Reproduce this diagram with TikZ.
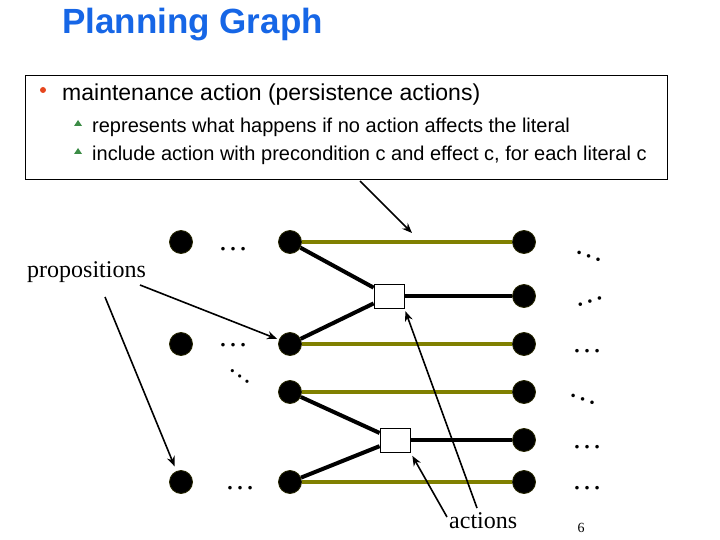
\documentclass[tikz,border=0pt]{standalone}
\usepackage{fontspec}
\setmainfont{Liberation Serif}
\newfontfamily\slidefont{Liberation Sans}
\usetikzlibrary{arrows.meta,positioning,calc}
\definecolor{titleblue}{RGB}{22,102,230}
\definecolor{persist}{RGB}{128,128,0}
\definecolor{bulletred}{RGB}{230,70,30}
\definecolor{subgreen}{RGB}{60,140,70}

\tikzset{
  prop/.style={circle,fill=black,draw=black!70!persist,line width=0.8pt,inner sep=0pt,minimum size=23pt},
  act/.style={draw=black,fill=white,inner sep=0pt,minimum width=30pt,minimum height=24pt,line width=0.8pt},
  noop/.style={persist,line width=4pt},
  link/.style={black,line width=4pt},
  pointer/.style={-{Stealth[length=10pt,width=8pt]},line width=1.6pt},
  etc/.style={inner sep=0pt,font=\fontsize{30}{30}\selectfont},
  slide/.style={anchor=base west,inner sep=0pt,font=\slidefont\fontsize{#1}{#1}\selectfont},
}

\begin{document}
\begin{tikzpicture}[x=1pt,y=-1pt]
  \useasboundingbox (0,0) rectangle (720,540);
  % heading and the text box
  \node[anchor=base west,inner sep=0pt,text=titleblue,font=\slidefont\bfseries\fontsize{35}{40}\selectfont] (title) at (62,34) {Planning Graph};
  \node[draw,line width=0.8pt,minimum width=642pt,minimum height=104pt,inner sep=0pt] (info) at (346,127) {};
  \fill[bulletred] (43,90) circle (3pt);
  \fill[subgreen] (74,126) -- (82,126) -- (78,120) -- cycle;
  \fill[subgreen] (74,154) -- (82,154) -- (78,148) -- cycle;
  \node[slide=23] (main) at (62,101) {maintenance action (persistence actions)};
  \node[slide=20] (subA) at (92,133) {represents what happens if no action affects the literal};
  \node[slide=20] (subB) at (92,161) {include action with precondition c and effect c, for each literal c};

  % proposition levels
  \node[prop] (s0a) at (181,242) {};
  \node[prop] (s0b) at (181,344) {};
  \node[prop] (s0c) at (181,482) {};
  \node[prop] (s1a) at (290,242) {};
  \node[prop] (s1b) at (290,344) {};
  \node[prop] (s1c) at (290,392) {};
  \node[prop] (s1d) at (290,482) {};
  \node[prop] (s2a) at (524,242) {};
  \node[prop] (s2b) at (524,296) {};
  \node[prop] (s2c) at (524,344) {};
  \node[prop] (s2d) at (524,392) {};
  \node[prop] (s2e) at (524,440) {};
  \node[prop] (s2f) at (524,482) {};

  % actions
  \node[act] (a1) at (389,296) {};
  \node[act] (a2) at (395,440) {};

  % maintenance actions
  \draw[noop] (s1a) -- (s2a);
  \draw[noop] (s1b) -- (s2c);
  \draw[noop] (s1c) -- (s2d);
  \draw[noop] (s1d) -- (s2f);
  \draw[link] (s1a) -- (a1); \draw[link] (s1b) -- (a1); \draw[link] (a1) -- (s2b);
  \draw[link] (s1c) -- (a2); \draw[link] (s1d) -- (a2); \draw[link] (a2) -- (s2e);

  % dots
  \node[etc] (d0a) at (233,249) {\ldots};
  \node[etc] (d0b) at (233,345) {\ldots};
  \node[etc,rotate=-36,font=\fontsize{27}{27}\selectfont] (d0x) at (240,376) {\ldots};
  \node[etc] (d0c) at (240,488) {\ldots};
  \node[etc,rotate=-20] (d2a) at (589,256) {\ldots};
  \node[etc,rotate=18] (d2b) at (590,302) {\ldots};
  \node[etc] (d2c) at (587,351) {\ldots};
  \node[etc,rotate=-20] (d2d) at (583,399) {\ldots};
  \node[etc] (d2e) at (587,447) {\ldots};
  \node[etc] (d2f) at (587,488) {\ldots};

  % labels and pointers
  \node[anchor=base west,inner sep=0pt,font=\fontsize{24}{24}\selectfont] (props) at (27,277) {propositions};
  \node[anchor=base west,inner sep=0pt,font=\fontsize{24}{24}\selectfont] (acts) at (449,528) {actions};
  \node[font=\fontsize{14}{14}\selectfont] (page) at (581,528) {6};
  \coordinate (boxfoot) at (360,181);
  \coordinate (noopline) at (412,233);
  \coordinate (propsA) at (140,285);
  \coordinate (propsB) at (105,297);
  \coordinate (actsA) at (477,508);
  \coordinate (actsB) at (447,517);
  \draw[pointer] (boxfoot) -- (noopline);
  \draw[pointer,shorten >=2pt] (propsA) -- (s1b);
  \draw[pointer,shorten >=5pt] (propsB) -- (s0c);
  \draw[pointer,shorten >=3pt] (actsA) -- (a1.south east);
  \draw[pointer,shorten >=4pt] (actsB) -- (a2.south east);
\end{tikzpicture}
\end{document}
